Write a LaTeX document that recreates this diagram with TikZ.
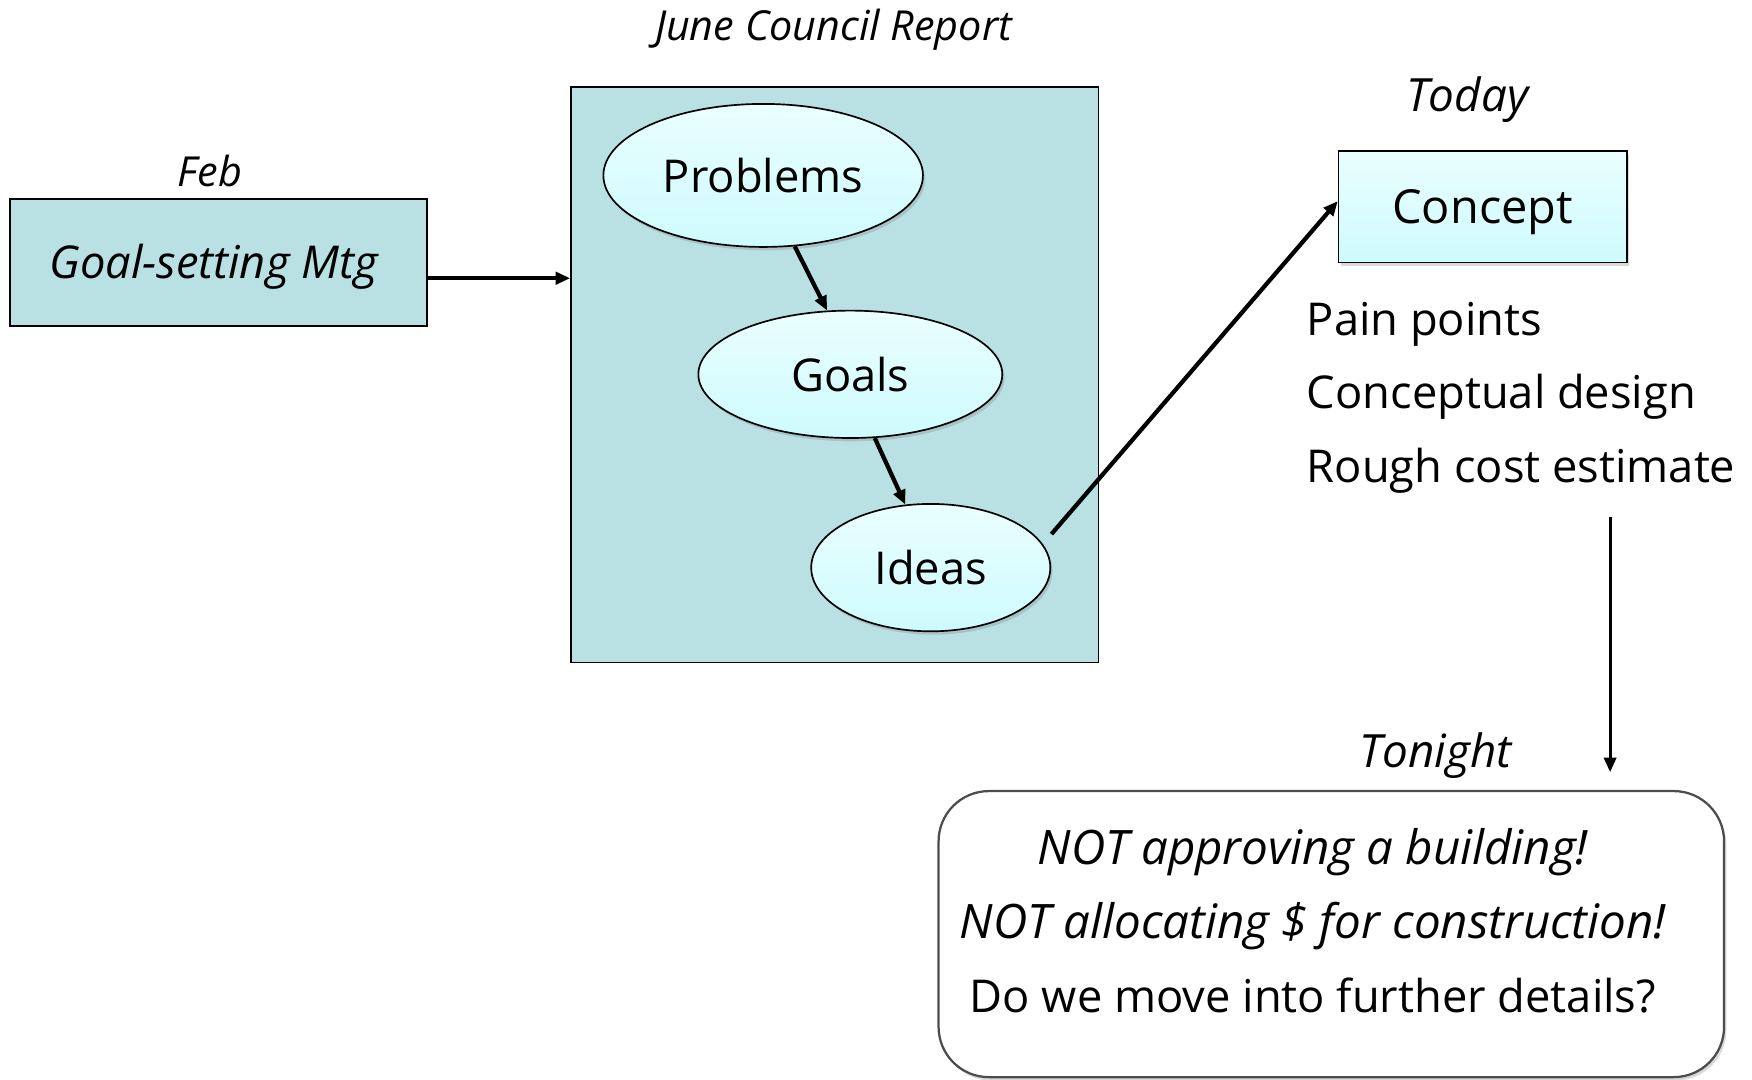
\documentclass[tikz,border=0pt]{standalone}
\usepackage{fontspec}
\setmainfont{Open Sans}
\usetikzlibrary{calc}
\usetikzlibrary{arrows.meta}
\usetikzlibrary{shapes.geometric}
\usetikzlibrary{shadows}

\definecolor{tealbox}{RGB}{185,224,227}
\definecolor{icetop}{RGB}{234,254,255}
\definecolor{icebot}{RGB}{206,251,253}

\newcommand{\fzMain}{\fontsize{40.5}{66}\selectfont}
\newcommand{\fzNote}{\fontsize{42.5}{66}\selectfont}
\newcommand{\fzBig}{\fontsize{41}{50}\selectfont}
\newcommand{\fzSmall}{\fontsize{37}{44}\selectfont}

\tikzset{
  phase/.style={draw, line width=1.5pt, fill=tealbox},
  soft/.style={drop shadow={shadow xshift=2pt, shadow yshift=-3pt, opacity=.3}},
  bubble/.style={ellipse, draw, line width=1.5pt, top color=icetop, bottom color=icebot, soft, inner sep=0pt, font=\fzMain},
  flow/.style={line width=3.8pt, -{Triangle[length=13pt,width=11pt]}},
}

\begin{document}
\begin{tikzpicture}[x=1pt, y=-1pt]
\useasboundingbox (0,0) rectangle (1568,966);

% Feb
\node[font=\fzSmall\itshape] (feb) at (188,153) {Feb};
\node[phase, minimum width=373pt, minimum height=114pt] (mtg) at (195.5,235) {};
\node[font=\fzMain\itshape] (mtgtext) at (191,239) {Goal-setting Mtg};

% June report
\node[font=\fzSmall\itshape] (reporttitle) at (746,27) {June Council Report};
\node[phase, minimum width=472pt, minimum height=515pt] (report) at (747,335.5) {};
\node[bubble, minimum width=286pt, minimum height=128pt] (problems) at (683,157) {Problems};
\node[bubble, minimum width=272pt, minimum height=114pt] (goals) at (761,335) {Goals};
\node[bubble, minimum width=214pt, minimum height=114pt] (ideas) at (833,508) {Ideas};

% today
\node[font=\fzBig\itshape] (today) at (1313,89) {Today};
\node[draw, line width=1.5pt, top color=icetop, bottom color=icebot, soft, minimum width=258pt, minimum height=100pt, text depth=0pt, font=\fontsize{42}{50}\selectfont] (concept) at (1327,185) {Concept};
\node[anchor=west, align=left, font=\fzMain] (points) at (1166,356) {Pain points\\Conceptual design\\Rough cost estimate};

% tonight
\node[font=\fzBig\itshape] (tonightlabel) at (1285,676) {Tonight};
\node[draw=black!70, line width=2pt, rounded corners=45pt, fill=white, soft, minimum width=703pt, minimum height=256pt] (tonight) at (1191.5,836) {};
\node[align=center, font=\fzMain] (caveats) at (1175,824) {{\fzNote\itshape NOT approving a building!}\\{\fzNote\itshape NOT allocating \$ for construction!}\\Do we move into further details?};

\coordinate (mtgout) at ($(mtg.east)+(0,14)$);
\coordinate (ideasout) at (941,478);
\coordinate (downtop) at (1441,463);

\draw[flow] (mtgout) -- (mtgout -| report.west);
\draw[flow] (problems.294) -- (goals.110);
\draw[flow] (goals.291) -- (ideas.112);
\draw[flow] (ideasout) -- ($(concept.west)+(0,-5)$);
\draw[flow, line width=2.6pt] (downtop) -- ($(downtop |- tonight.north)+(0,-16)$);

\end{tikzpicture}
\end{document}
